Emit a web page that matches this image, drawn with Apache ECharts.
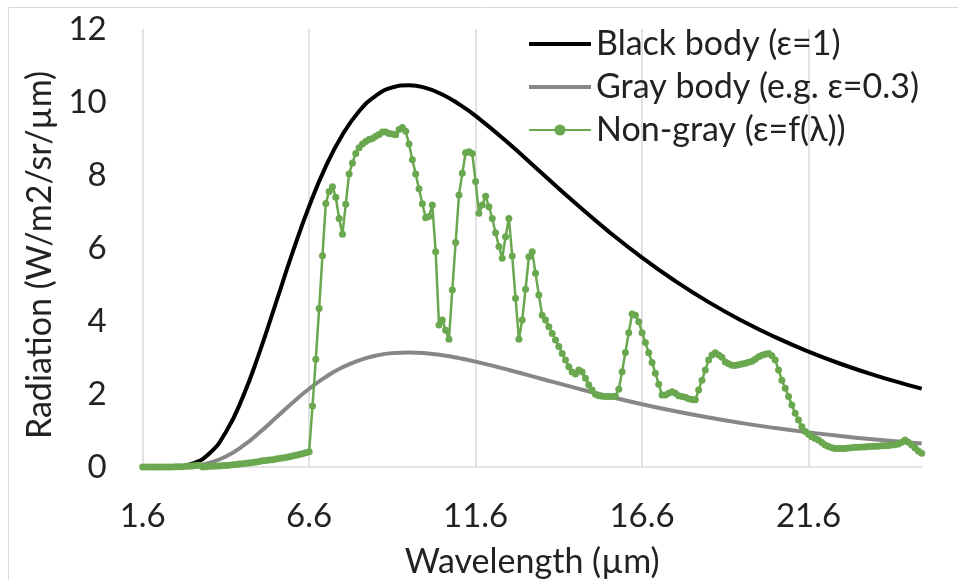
<!DOCTYPE html>
<html>
<head>
<meta charset="utf-8">
<title>Radiation vs wavelength</title>
<script src="https://cdn.jsdelivr.net/npm/echarts@6.0.0/dist/echarts.min.js"></script>
<style>
    html, body { margin: 0; padding: 0; background: #fff; }
    #chart { width: 958px; height: 580px; }
</style>
</head>
<body>
<div id="chart"></div>
<script>
// smooth curves, sampled every 0.5-1 µm
const bbWavelengths = [1.6, 2.1, 2.6, 3.1, 3.6, 4.1, 4.6, 5.1, 5.6, 6.1, 6.6, 7.1, 7.6, 8.1, 8.6, 9.1, 9.6, 10.1, 10.6, 11.1,
    11.6, 12.6, 13.6, 14.6, 15.6, 16.6, 17.6, 18.6, 19.6, 20.6, 21.6, 22.6, 23.6, 24.6, 25.0];
const blackBody = [0, 0, 0.012, 0.093, 0.368, 0.959, 1.901, 3.121, 4.492, 5.871, 7.143, 8.234, 9.103, 9.748, 10.168, 10.399, 10.458, 10.385, 10.205, 9.942,
    9.619, 8.862, 8.040, 7.224, 6.449, 5.736, 5.093, 4.517, 4.007, 3.557, 3.162, 2.815, 2.511, 2.244, 2.146];
const grayBody = [0, 0, 0.004, 0.028, 0.110, 0.288, 0.570, 0.936, 1.348, 1.761, 2.143, 2.470, 2.731, 2.924, 3.050, 3.120, 3.137, 3.116, 3.062, 2.983,
    2.886, 2.659, 2.412, 2.167, 1.935, 1.721, 1.528, 1.355, 1.202, 1.067, 0.949, 0.845, 0.753, 0.673, 0.644];

// measured spectrum, every 0.1 µm
const wavelengths = [
    1.6, 1.7, 1.8, 1.9, 2.0, 2.1, 2.2, 2.3, 2.4, 2.5,
    2.6, 2.7, 2.8, 2.9, 3.0, 3.1, 3.2, 3.3, 3.4, 3.5,
    3.6, 3.7, 3.8, 3.9, 4.0, 4.1, 4.2, 4.3, 4.4, 4.5,
    4.6, 4.7, 4.8, 4.9, 5.0, 5.1, 5.2, 5.3, 5.4, 5.5,
    5.6, 5.7, 5.8, 5.9, 6.0, 6.1, 6.2, 6.3, 6.4, 6.5,
    6.6, 6.7, 6.8, 6.9, 7.0, 7.1, 7.2, 7.3, 7.4, 7.5,
    7.6, 7.7, 7.8, 7.9, 8.0, 8.1, 8.2, 8.3, 8.4, 8.5,
    8.6, 8.7, 8.8, 8.9, 9.0, 9.1, 9.2, 9.3, 9.4, 9.5,
    9.6, 9.7, 9.8, 9.9, 10.0, 10.1, 10.2, 10.3, 10.4, 10.5,
    10.6, 10.7, 10.8, 10.9, 11.0, 11.1, 11.2, 11.3, 11.4, 11.5,
    11.6, 11.7, 11.8, 11.9, 12.0, 12.1, 12.2, 12.3, 12.4, 12.5,
    12.6, 12.7, 12.8, 12.9, 13.0, 13.1, 13.2, 13.3, 13.4, 13.5,
    13.6, 13.7, 13.8, 13.9, 14.0, 14.1, 14.2, 14.3, 14.4, 14.5,
    14.6, 14.7, 14.8, 14.9, 15.0, 15.1, 15.2, 15.3, 15.4, 15.5,
    15.6, 15.7, 15.8, 15.9, 16.0, 16.1, 16.2, 16.3, 16.4, 16.5,
    16.6, 16.7, 16.8, 16.9, 17.0, 17.1, 17.2, 17.3, 17.4, 17.5,
    17.6, 17.7, 17.8, 17.9, 18.0, 18.1, 18.2, 18.3, 18.4, 18.5,
    18.6, 18.7, 18.8, 18.9, 19.0, 19.1, 19.2, 19.3, 19.4, 19.5,
    19.6, 19.7, 19.8, 19.9, 20.0, 20.1, 20.2, 20.3, 20.4, 20.5,
    20.6, 20.7, 20.8, 20.9, 21.0, 21.1, 21.2, 21.3, 21.4, 21.5,
    21.6, 21.7, 21.8, 21.9, 22.0, 22.1, 22.2, 22.3, 22.4, 22.5,
    22.6, 22.7, 22.8, 22.9, 23.0, 23.1, 23.2, 23.3, 23.4, 23.5,
    23.6, 23.7, 23.8, 23.9, 24.0, 24.1, 24.2, 24.3, 24.4, 24.5,
    24.6, 24.7, 24.8, 24.9, 25.0
];
const nonGray = [
    0, 0, 0, 0, 0, 0, 0, 0, 0, 0,
    0.01, 0.01, 0.01, 0.02, 0.02, 0.03, 0.04, 0.05, 0.00, 0.01,
    0.02, 0.02, 0.03, 0.03, 0.04, 0.04, 0.05, 0.06, 0.07, 0.08,
    0.09, 0.10, 0.11, 0.12, 0.14, 0.15, 0.17, 0.18, 0.19, 0.20,
    0.22, 0.23, 0.25, 0.26, 0.28, 0.30, 0.32, 0.34, 0.36, 0.39,
    0.42, 1.67, 2.95, 4.34, 5.79, 7.22, 7.55, 7.68, 7.39, 6.81,
    6.38, 7.20, 8.03, 8.33, 8.59, 8.75, 8.85, 8.92, 8.97, 9.00,
    9.06, 9.11, 9.18, 9.18, 9.14, 9.12, 9.10, 9.25, 9.30, 9.20,
    8.85, 8.42, 8.03, 7.62, 7.21, 6.83, 6.86, 7.18, 5.90, 3.89,
    4.03, 3.75, 3.50, 4.85, 6.15, 7.45, 8.05, 8.61, 8.64, 8.59,
    7.82, 6.95, 7.18, 7.42, 7.13, 6.81, 6.42, 6.04, 5.72, 6.31,
    6.81, 5.78, 4.62, 3.50, 4.03, 4.87, 5.76, 5.90, 5.31, 4.71,
    4.16, 4.03, 3.84, 3.66, 3.48, 3.30, 3.11, 2.93, 2.75, 2.60,
    2.55, 2.66, 2.60, 2.43, 2.25, 2.11, 1.99, 1.95, 1.94, 1.93,
    1.93, 1.93, 1.94, 2.13, 2.61, 3.14, 3.68, 4.19, 4.16, 3.98,
    3.68, 3.41, 3.13, 2.86, 2.57, 2.27, 1.97, 1.97, 2.02, 2.06,
    2.02, 1.95, 1.93, 1.91, 1.87, 1.85, 1.84, 2.11, 2.38, 2.66,
    2.93, 3.07, 3.13, 3.07, 3.01, 2.88, 2.83, 2.79, 2.78, 2.80,
    2.82, 2.84, 2.87, 2.90, 2.95, 3.02, 3.06, 3.09, 3.11, 3.05,
    2.93, 2.66, 2.38, 2.16, 1.93, 1.70, 1.47, 1.29, 1.10, 0.97,
    0.90, 0.83, 0.78, 0.74, 0.67, 0.60, 0.56, 0.53, 0.51, 0.51,
    0.51, 0.51, 0.52, 0.53, 0.54, 0.54, 0.55, 0.55, 0.56, 0.56,
    0.57, 0.57, 0.58, 0.58, 0.59, 0.60, 0.61, 0.63, 0.68, 0.74,
    0.68, 0.60, 0.52, 0.44, 0.38
];

const seriesNames = ['Black body (ε=1)', 'Gray body (e.g. ε=0.3)', 'Non-gray (ε=f(λ))'];

const zip = (xs, ys) => xs.map((x, i) => [x, ys[i]]);

const font = 'Lato';
const textColor = '#222222';
const gridColor = '#d9d9d9';
const blackColor = '#000000';
const grayColor = '#878787';
const greenColor = '#6aa84f';
// plain bar used as legend icon for the two smooth curves
const barIcon = 'path://M0,0h62v4h-62z';

var myChart = echarts.init(document.getElementById('chart'));
myChart.setOption({
    animation: false,
    backgroundColor: '#ffffff',
    grid: {
        left: 142.7,
        right: 36.3,
        top: 29,
        bottom: 113,
        outerBoundsMode: 'none'
    },
    legend: {
        orient: 'vertical',
        left: 528,
        top: 26,
        padding: 0,
        itemWidth: 62,
        itemHeight: 14,
        itemGap: 7,
        data: [
            { name: seriesNames[0], icon: barIcon },
            { name: seriesNames[1], icon: barIcon },
            { name: seriesNames[2] }
        ],
        textStyle: {
            fontFamily: font,
            fontSize: 34,
            lineHeight: 36,
            color: textColor
        }
    },
    xAxis: {
        type: 'value',
        min: 1.6,
        max: 25.0,
        interval: 5,
        name: 'Wavelength (µm)',
        nameLocation: 'middle',
        nameGap: 78,
        nameTextStyle: {
            fontFamily: font,
            fontSize: 34,
            color: textColor
        },
        axisLine: {
            show: true,
            lineStyle: { color: gridColor, width: 1.5 }
        },
        axisTick: { show: false },
        axisLabel: {
            fontFamily: font,
            fontSize: 33,
            color: textColor,
            margin: 33,
            showMaxLabel: false
        },
        splitLine: {
            show: true,
            showMinLine: true,
            showMaxLine: false,
            lineStyle: { color: gridColor, width: 1.5 }
        }
    },
    yAxis: {
        type: 'value',
        min: 0,
        max: 12,
        interval: 2,
        name: 'Radiation (W/m2/sr/µm)',
        nameLocation: 'middle',
        nameGap: 82,
        nameTextStyle: {
            fontFamily: font,
            fontSize: 34,
            color: textColor,
            padding: [0, 14, 0, 0]
        },
        axisLine: { show: false },
        axisTick: { show: false },
        splitLine: { show: false },
        axisLabel: {
            fontFamily: font,
            fontSize: 33,
            color: textColor,
            margin: 36
        }
    },
    graphic: [
        // chart frame, cut by the picture on the right and bottom
        { type: 'line', silent: true, shape: { x1: 8.5, y1: 7.5, x2: 958, y2: 7.5 }, style: { stroke: gridColor, lineWidth: 1 } },
        { type: 'line', silent: true, shape: { x1: 8.5, y1: 7.5, x2: 8.5, y2: 580 }, style: { stroke: gridColor, lineWidth: 1 } }
    ],
    series: [
        {
            name: seriesNames[0],
            type: 'line',
            smooth: true,
            symbol: 'none',
            lineStyle: { color: blackColor, width: 4 },
            itemStyle: { color: blackColor },
            data: zip(bbWavelengths, blackBody)
        },
        {
            name: seriesNames[1],
            type: 'line',
            smooth: true,
            symbol: 'none',
            lineStyle: { color: grayColor, width: 4 },
            itemStyle: { color: grayColor },
            data: zip(bbWavelengths, grayBody)
        },
        {
            name: seriesNames[2],
            type: 'line',
            symbol: 'circle',
            symbolSize: 7,
            lineStyle: { color: greenColor, width: 2.5 },
            itemStyle: { color: greenColor },
            data: zip(wavelengths, nonGray)
        }
    ]
});
</script>
</body>
</html>
